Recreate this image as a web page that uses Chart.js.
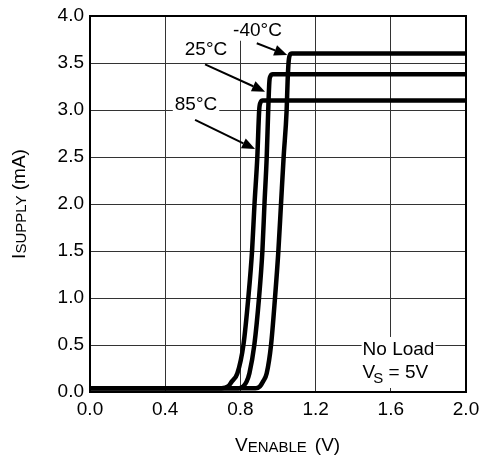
<!DOCTYPE html>
<html><head><meta charset="utf-8">
<script src="https://cdn.jsdelivr.net/npm/chart.js@4.4.0/dist/chart.umd.min.js"></script>
<style>html,body{margin:0;padding:0;background:#fff;}canvas{display:block;}</style>
</head><body>
<canvas id="c" width="480" height="464"></canvas>
<script>
// ---- data (V_ENABLE in V, I_SUPPLY in mA) ----
const xTickLabels = ['0.0','0.4','0.8','1.2','1.6','2.0'];
const yTickLabels = ['0.0','0.5','1.0','1.5','2.0','2.5','3.0','3.5','4.0'];
const seriesNames = ['85°C','25°C','-40°C'];

const v85 = [0, 0.70, 0.735, 0.754, 0.784, 0.816, 0.842, 0.862, 0.875, 0.890, 0.900, 0.907, 0.918, 2.0];
const i85 = [0.04, 0.04, 0.06, 0.11, 0.20, 0.50, 1.00, 1.50, 2.00, 2.50, 3.00, 3.08, 3.10, 3.10];

const v25 = [0, 0.79, 0.815, 0.833, 0.848, 0.874, 0.899, 0.917, 0.928, 0.940, 0.948, 0.954, 0.960, 0.972, 2.0];
const i25 = [0.04, 0.04, 0.06, 0.11, 0.20, 0.50, 1.00, 1.50, 2.00, 2.50, 3.00, 3.30, 3.36, 3.38, 3.38];

const vM40 = [0, 0.88, 0.904, 0.920, 0.940, 0.963, 0.984, 1.002, 1.016, 1.030, 1.046, 1.051, 1.056, 1.062, 1.074, 2.0];
const iM40 = [0.04, 0.04, 0.06, 0.11, 0.20, 0.50, 1.00, 1.50, 2.00, 2.50, 3.00, 3.30, 3.50, 3.58, 3.60, 3.60];

// annotation anchors (data units)
const annot = {
  text:  ['-40°C', '25°C', '85°C'],
  textX: [0.891, 0.617, 0.564],
  textY: [3.79, 3.585, 3.0],
  fromX: [0.887, 0.612, 0.559],
  fromY: [3.71, 3.486, 2.894],
  toX:   [1.049, 0.931, 0.878],
  toY:   [3.585, 3.195, 2.585]
};
const noteX = 1.45, noteY1 = 0.394, noteY2 = 0.149;

const FONT = '"Liberation Sans", Arial, Helvetica, sans-serif';
const pts = (xs, ys) => xs.map((x, i) => ({x: x, y: ys[i]}));

function arrow(ctx, x1, y1, x2, y2) {
  const a = Math.atan2(y2 - y1, x2 - x1), L = 13, W = 5.5;
  const bx = x2 - L * Math.cos(a), by = y2 - L * Math.sin(a);
  ctx.beginPath(); ctx.moveTo(x1, y1); ctx.lineTo(bx, by);
  ctx.lineWidth = 2; ctx.strokeStyle = '#000'; ctx.stroke();
  ctx.beginPath(); ctx.moveTo(x2, y2);
  ctx.lineTo(bx - W * Math.sin(a), by + W * Math.cos(a));
  ctx.lineTo(bx + W * Math.sin(a), by - W * Math.cos(a));
  ctx.closePath(); ctx.fillStyle = '#000'; ctx.fill();
}

const annotPlugin = {
  id: 'annot',
  beforeDatasetsDraw(chart) {
    const ctx = chart.ctx, xs = chart.scales.x, ys = chart.scales.y;
    ctx.save();
    ctx.fillStyle = '#fff';
    ctx.font = '19px ' + FONT;
    annot.text.forEach((t, i) => {
      const w = ctx.measureText(t).width;
      const cx = xs.getPixelForValue(annot.textX[i]);
      const by = ys.getPixelForValue(annot.textY[i]);
      ctx.fillRect(cx - w / 2 - 2, by - 19, w + 4, 24);
    });
    const nx = xs.getPixelForValue(noteX);
    const ny1 = ys.getPixelForValue(noteY1);
    const ny2 = ys.getPixelForValue(noteY2);
    const w1 = ctx.measureText('No Load').width;
    ctx.fillRect(nx - 1, ny1 - 18, w1 + 2, ny2 - ny1 + 28);
    ctx.restore();
  },
  afterDatasetsDraw(chart) {
    const ctx = chart.ctx, xs = chart.scales.x, ys = chart.scales.y, ca = chart.chartArea;
    ctx.save();
    ctx.fillStyle = '#000';
    ctx.font = '19px ' + FONT;
    ctx.textBaseline = 'alphabetic';
    ctx.textAlign = 'center';
    annot.text.forEach((t, i) => {
      ctx.fillText(t, xs.getPixelForValue(annot.textX[i]), ys.getPixelForValue(annot.textY[i]));
      arrow(ctx, xs.getPixelForValue(annot.fromX[i]), ys.getPixelForValue(annot.fromY[i]),
                 xs.getPixelForValue(annot.toX[i]), ys.getPixelForValue(annot.toY[i]));
    });
    ctx.textAlign = 'left';
    const nx = xs.getPixelForValue(noteX);
    const ny1 = ys.getPixelForValue(noteY1);
    const ny2 = ys.getPixelForValue(noteY2);
    ctx.fillText('No Load', nx, ny1);
    ctx.fillText('V', nx, ny2);
    let x = nx + ctx.measureText('V').width - 2;
    ctx.font = '15px ' + FONT;
    ctx.fillText('S', x, ny2 + 5);
    x += ctx.measureText('S').width;
    ctx.font = '19px ' + FONT;
    ctx.fillText(' = 5V', x, ny2);
    ctx.lineWidth = 2; ctx.strokeStyle = '#000';
    ctx.strokeRect(ca.left, ca.top, ca.right - ca.left, ca.bottom - ca.top);
    ctx.restore();
  },
  afterDraw(chart) {
    const ctx = chart.ctx, ca = chart.chartArea;
    ctx.save();
    ctx.fillStyle = '#000';
    ctx.textBaseline = 'alphabetic';
    ctx.textAlign = 'left';
    let x = ca.left + 145, y = 451;
    ctx.font = '19px ' + FONT; ctx.fillText('V', x, y); x += ctx.measureText('V').width;
    ctx.font = '15px ' + FONT; ctx.fillText('ENABLE', x, y + 1); x += ctx.measureText('ENABLE').width;
    ctx.font = '19px ' + FONT; x += 8; ctx.fillText('(V)', x, y);
    ctx.translate(25, (ca.top + ca.bottom) / 2);
    ctx.rotate(-Math.PI / 2);
    ctx.font = '19px ' + FONT; const wI = ctx.measureText('I').width;
    ctx.font = '15px ' + FONT; const wS = ctx.measureText('SUPPLY').width;
    ctx.font = '19px ' + FONT; const wM = ctx.measureText(' (mA)').width;
    let t = -(wI + wS + wM) / 2;
    ctx.font = '19px ' + FONT; ctx.fillText('I', t, 0); t += wI;
    ctx.font = '15px ' + FONT; ctx.fillText('SUPPLY', t, 1); t += wS;
    ctx.font = '19px ' + FONT; ctx.fillText(' (mA)', t, 0);
    ctx.restore();
  }
};

const lineStyle = {borderColor: '#000', borderWidth: 4.5, pointRadius: 0, fill: false, cubicInterpolationMode: 'monotone'};

new Chart(document.getElementById('c'), {
  type: 'line',
  data: {
    datasets: [
      Object.assign({label: seriesNames[0], data: pts(v85, i85)}, lineStyle),
      Object.assign({label: seriesNames[1], data: pts(v25, i25)}, lineStyle),
      Object.assign({label: seriesNames[2], data: pts(vM40, iM40)}, lineStyle)
    ]
  },
  options: {
    responsive: false,
    animation: false,
    devicePixelRatio: 1,
    layout: {padding: {left: 0, top: 16, right: 14, bottom: 0}},
    plugins: {legend: {display: false}, tooltip: {enabled: false}},
    scales: {
      x: {
        type: 'linear', min: 0, max: 2,
        afterBuildTicks: s => { s.ticks = xTickLabels.map(v => ({value: parseFloat(v)})); },
        afterFit: s => { s.height = 72; s.paddingLeft = 0; s.paddingRight = 0; },
        ticks: {callback: (v, i) => xTickLabels[i], font: {family: FONT, size: 19}, color: '#000', padding: 6, maxRotation: 0, autoSkip: false},
        grid: {color: '#333', lineWidth: 1, drawTicks: false},
        border: {display: false}
      },
      y: {
        type: 'linear', min: 0, max: 4,
        afterBuildTicks: s => { s.ticks = yTickLabels.map(v => ({value: parseFloat(v)})); },
        afterFit: s => { s.width = 90; s.paddingTop = 0; s.paddingBottom = 0; },
        ticks: {callback: (v, i) => yTickLabels[i], font: {family: FONT, size: 19}, color: '#000', padding: 6, autoSkip: false},
        grid: {color: '#333', lineWidth: 1, drawTicks: false},
        border: {display: false}
      }
    }
  },
  plugins: [annotPlugin]
});
</script>
</body></html>
